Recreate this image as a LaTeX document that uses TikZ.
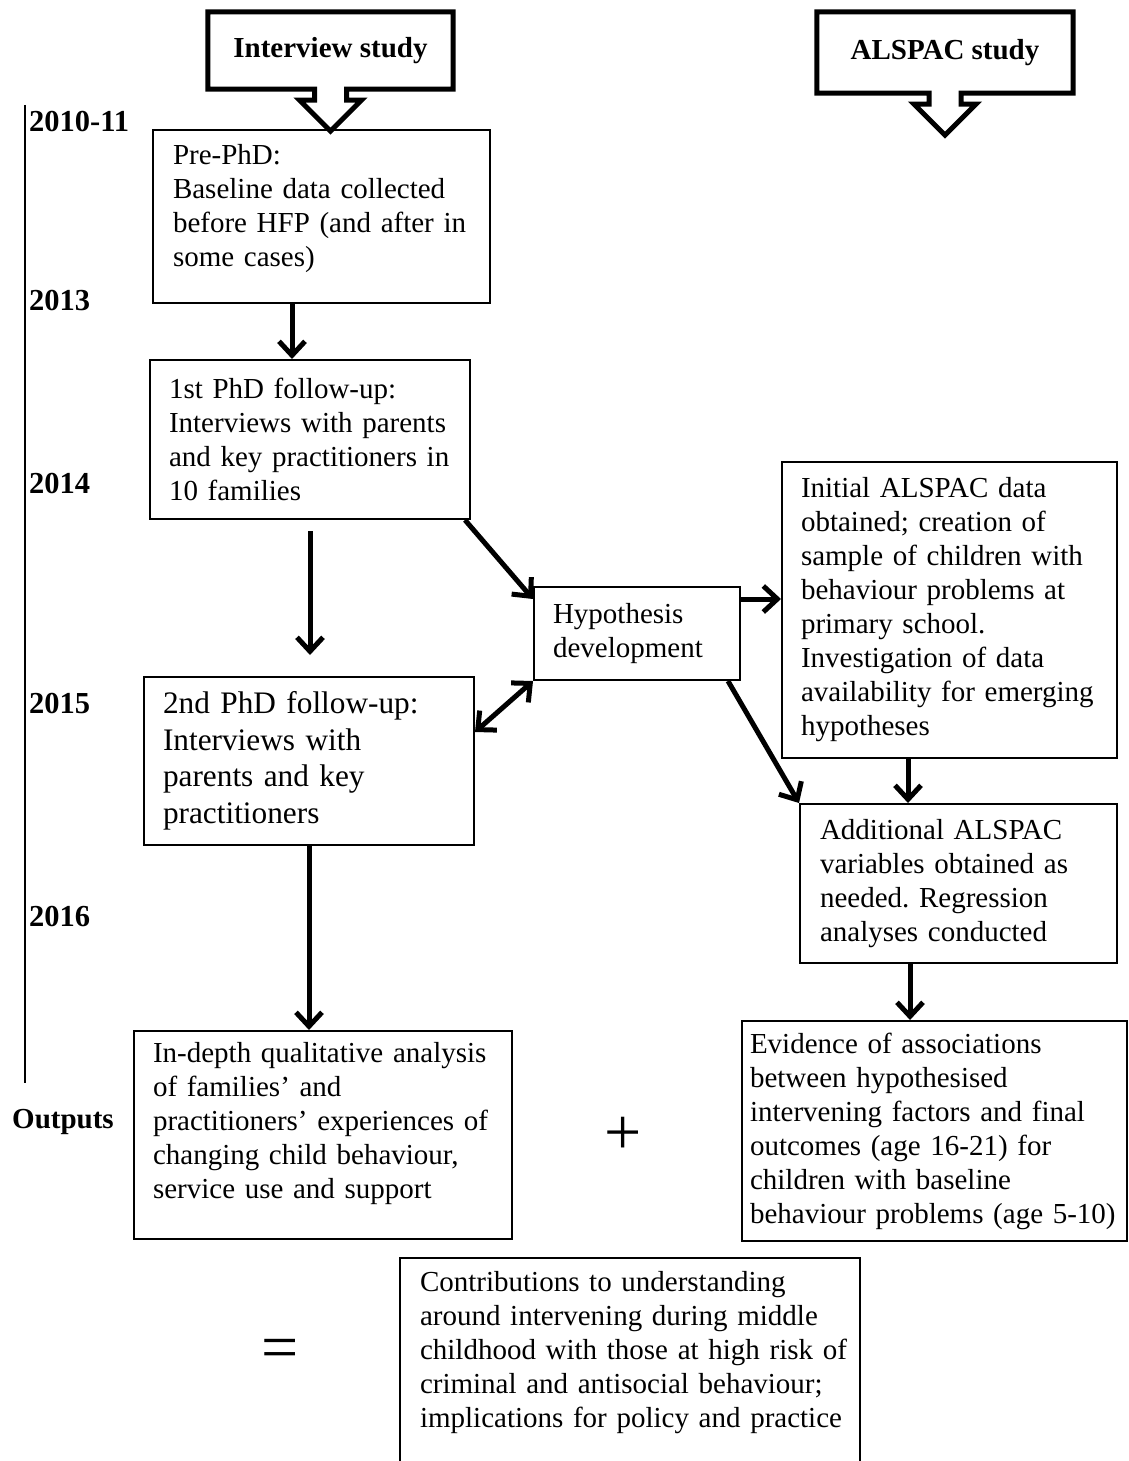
\documentclass[tikz,border=0pt]{standalone}
\usepackage{fontspec}
\setmainfont{Liberation Serif}
\usetikzlibrary{arrows.meta,calc}

\newcommand{\bodyfont}{\fontsize{29}{34}\selectfont\frenchspacing}
\newcommand{\bigbody}{\fontsize{31.3}{36.5}\selectfont\frenchspacing}
\newcommand{\labfont}{\fontsize{29}{34}\selectfont\bfseries}
\newcommand{\yearfont}{\fontsize{30.5}{34}\selectfont\bfseries}

\begin{document}
\begin{tikzpicture}[x=1pt,y=-1pt,
    box/.style={draw,line width=2pt,inner sep=0pt,align=left,font=\bodyfont,
      execute at begin node={\rightskip=-30pt plus 1fil\relax}},
    arr/.style={-{Straight Barb[length=14pt,width=26pt]},line width=5pt},
    arrboth/.style={{Straight Barb[length=14pt,width=26pt]}-{Straight Barb[length=14pt,width=26pt]},line width=5pt},
    callout/.style={line width=5pt,line join=miter}]
  \useasboundingbox (0,0) rectangle (1128,1461);

  % study headers with block arrows
  \foreach \n/\t/\x/\y/\w/\h in {intv/Interview study/330.5/50.5/245/77,
      alsp/ALSPAC study/945/52.5/256/81}
  {
    \node[font=\labfont,minimum width=\w pt,minimum height=\h pt,inner sep=0pt] (\n) at (\x,\y) {\t};
    \draw[callout] (\n.south west) -- (\n.north west) -- (\n.north east) -- (\n.south east)
      -- ([xshift=16pt]\n.south) -- ++(0,11) -- ++(15,0) -- ++(-31,31) -- ++(-31,-31)
      -- ++(15,0) -- ++(0,-11) -- cycle;
  }

  % timeline
  \draw[line width=2pt] (25,105) -- (25,1083);
  \foreach \yr/\y [count=\i] in {2010-11/122,2013/301,2014/484,2015/703,2016/916}
    \node[font=\yearfont,anchor=west,inner sep=0pt] (yr\i) at (29,\y) {\yr};
  \node[font=\labfont,anchor=west,inner sep=0pt] (outp) at (12,1122) {Outputs};

  % interview study
  \node[box,minimum width=337pt,minimum height=173pt,text width=297pt] (pre) at (321.5,216.5)
    {Pre-PhD:\\Baseline data collected\\before HFP (and after in\\some cases)\rule[-23pt]{0pt}{0pt}};
  \node[box,minimum width=320pt,minimum height=159pt,text width=282pt] (first) at (310,439.5)
    {1st PhD follow-up:\\Interviews with parents\\and key practitioners in\\10 families};
  \node[box,font=\bigbody,minimum width=330pt,minimum height=168pt,text width=292pt] (second) at (309,761)
    {2nd PhD follow-up:\\Interviews with\\parents and key\\practitioners};
  \node[box,minimum width=378pt,minimum height=208pt,text width=340pt] (indepth) at (323,1135)
    {In-depth qualitative analysis\\of families' and\\practitioners' experiences of\\changing child behaviour,\\service use and support\rule[-29pt]{0pt}{0pt}};

  % middle
  \node[box,minimum width=206pt,minimum height=93pt,text width=168pt] (hyp) at (637,633.5)
    {Hypothesis\\development};

  % ALSPAC study
  \node[box,minimum width=335pt,minimum height=296pt,text width=297pt] (init) at (949.5,610)
    {Initial ALSPAC data\\obtained; creation of\\sample of children with\\behaviour problems at\\primary school.\\Investigation of data\\availability for emerging\\hypotheses};
  \node[box,minimum width=317pt,minimum height=159pt,text width=277pt] (addl) at (958.5,883.5)
    {Additional ALSPAC\\variables obtained as\\needed. Regression\\analyses conducted};
  \node[box,minimum width=385pt,minimum height=220pt,text width=369pt] (evid) at (934.5,1131)
    {Evidence of associations\\between hypothesised\\intervening factors and final\\outcomes (age 16-21) for\\children with baseline\\behaviour problems (age 5-10)};

  % outputs
  \node[font=\fontsize{66}{70}\selectfont,inner sep=0pt] (plus) at (623,1136) {+};
  \node[font=\fontsize{66}{70}\selectfont,inner sep=0pt] (eq) at (280,1354) {=};
  \node[box,anchor=north,minimum width=460pt,text width=420pt,inner ysep=13pt] (contrib) at (630,1257)
    {Contributions to understanding\\around intervening during middle\\childhood with those at high risk of\\criminal and antisocial behaviour;\\implications for policy and practice\\\rule{0pt}{80pt}};

  % connectors
  \coordinate (p1) at ([xshift=-29.5pt]pre.south);
  \draw[arr] (p1) -- (p1 |- first.north);
  \coordinate (f1) at ([yshift=-11pt]first.south);
  \coordinate (s1) at ([yshift=21pt]second.north);
  \draw[arr] (f1) -- (f1 |- s1);
  \draw[arr] ([xshift=-6pt]first.south east) -- ([yshift=-13pt]hyp.north west);
  \coordinate (h1) at ([yshift=-13pt]hyp.north east);
  \draw[arr] (h1) -- (h1 -| init.west);
  \draw[arrboth] (hyp.south west) -- ([yshift=-56pt]second.north east);
  \draw[arr] ([xshift=-13pt]hyp.south east) -- (addl.north west);
  \coordinate (i1) at ([xshift=-41.5pt]init.south);
  \draw[arr] (i1) -- (i1 |- addl.north);
  \draw[arr] (second.south) -- (second.south |- indepth.north);
  \coordinate (a1) at ([xshift=-48.5pt]addl.south);
  \draw[arr] (a1) -- (a1 |- evid.north);
\end{tikzpicture}
\end{document}
